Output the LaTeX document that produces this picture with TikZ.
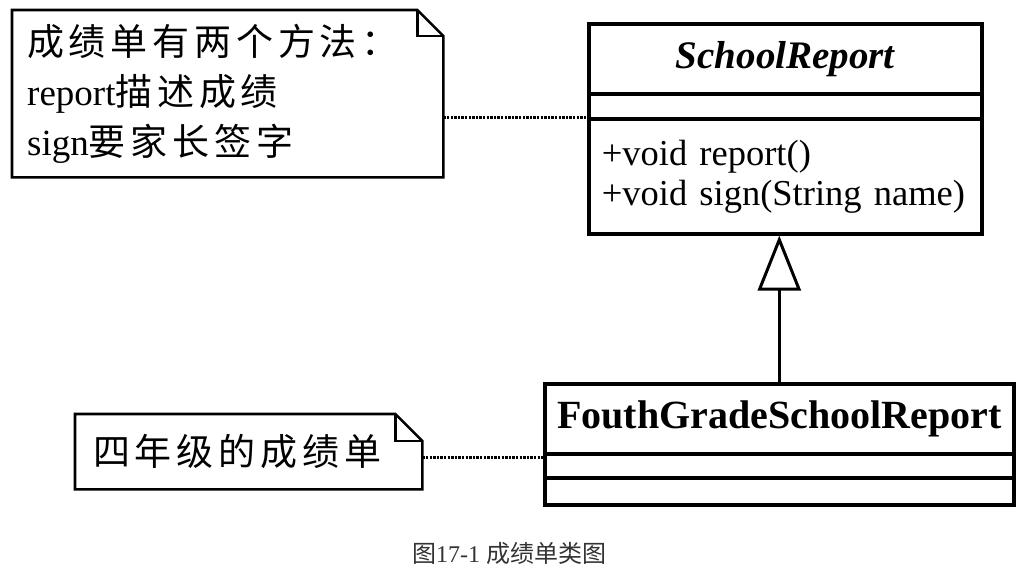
\documentclass[tikz,border=0pt]{standalone}
\usepackage{fontspec}
\setmainfont{Liberation Serif}
\newfontfamily\cjk{Noto Sans CJK SC}
\newfontfamily\cjkwide[LetterSpace=13]{Noto Sans CJK SC}
\usetikzlibrary{arrows.meta}
\begin{document}
\begin{tikzpicture}[x=1pt,y=-1pt,
  classpart/.style={draw, line width=3.6pt, rectangle, inner sep=0pt, anchor=north west},
  notebox/.style={inner sep=0pt, anchor=north west, align=left},
  noteline/.style={line width=2.6pt, line join=miter},
  tie/.style={line width=3pt, dash pattern=on 2.4pt off 1.2pt},
  inherit/.style={line width=3pt, -{Triangle[open, length=55pt, width=43pt, fill=white]}}]
\useasboundingbox (0,0) rectangle (1024,576);

% abstract class SchoolReport
\node[classpart, minimum width=393, minimum height=70,
      font=\fontsize{39}{44}\selectfont\bfseries\itshape] (sr) at (587,22) {SchoolReport};
\node[classpart, minimum width=393, minimum height=25] (sra) at (587,92) {};
\node[classpart, minimum width=393, minimum height=115, text width=367, inner xsep=13pt,
      align=left, font=\fontsize{36.5}{40}\selectfont] (srm) at (587,117)
      {+void report()\\+void sign(String name)};

% subclass FouthGradeSchoolReport
\node[classpart, minimum width=469, minimum height=70,
      font=\fontsize{40}{44}\selectfont\bfseries] (fg) at (543,382) {FouthGradeSchoolReport};
\node[classpart, minimum width=469, minimum height=24] (fga) at (543,452) {};
\node[classpart, minimum width=469, minimum height=27] (fgm) at (543,476) {};

% notes with folded corner
\node[notebox, minimum height=167, text width=401, inner xsep=15pt,
      font=\fontsize{37}{50}\selectfont] (n1) at (12,10)
      {{\cjkwide 成绩单有两个方法：}\\report{\cjkwide 描述成绩}\\sign{\cjkwide 要家长签字}};
\draw[noteline] (n1.north west) -- ([xshift=-26pt]n1.north east) -- ([yshift=-26pt]n1.north east)
  -- (n1.south east) -- (n1.south west) -- cycle;
\draw[noteline] ([xshift=-26pt]n1.north east) |- ([yshift=-26pt]n1.north east);

\node[notebox, minimum height=75, text width=311, inner xsep=18pt,
      font=\fontsize{37}{44}\selectfont\cjkwide] (n2) at (75,414) {四年级的成绩单};
\draw[noteline] (n2.north west) -- ([xshift=-27pt]n2.north east) -- ([yshift=-27pt]n2.north east)
  -- (n2.south east) -- (n2.south west) -- cycle;
\draw[noteline] ([xshift=-27pt]n2.north east) |- ([yshift=-27pt]n2.north east);

% note attachments
\draw[tie] (n1.east |- srm.north west) -- (srm.north west);
\coordinate (n2tie) at ([yshift=-6pt]n2.east);
\draw[tie] (n2tie) -- (n2tie -| fga.west);

% generalization
\draw[inherit] (fg.north) -- (fg.north |- srm.south);

% caption
\node[font=\fontsize{24}{26}\selectfont, text=black!80] (cap) at (509,553)
  {{\cjk 图}17-1 {\cjk 成绩单类图}};
\end{tikzpicture}
\end{document}
